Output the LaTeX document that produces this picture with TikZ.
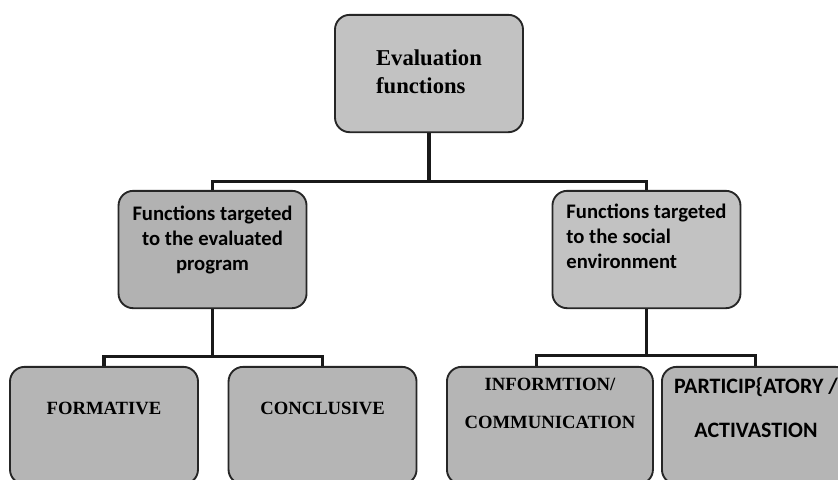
\documentclass[tikz,border=0pt]{standalone}
\usepackage{fontspec}
\setmainfont{Liberation Serif}
\newfontfamily\calib{Carlito}
\tikzstyle{recNode} = [rectangle, minimum width=141pt, minimum height=88pt, align=center, rounded corners=11pt, draw=black!85, line width=1.4pt, inner sep=0pt]
\tikzstyle{recNodeT} = [recNode, fill=black!24, align=left, font=\bfseries\fontsize{17}{21}\selectfont]
\tikzstyle{recNodeS} = [recNode, fill=black!30, font=\calib\bfseries\fontsize{15.5}{18.75}\selectfont]
\tikzstyle{recNodeL} = [recNode, fill=black!29, font=\bfseries\fontsize{14}{28.5}\selectfont]
\tikzstyle{line} = [line width=2.3pt, draw=black!90]

\begin{document}
\begin{tikzpicture}[node distance=132pt]
        \useasboundingbox (0,0) rectangle (628.5pt,359.25pt);
        \clip (0,0) rectangle (628.5pt,359.25pt);

        \node (eval) [recNodeT, text depth=3pt] at (321.75pt,304.1pt) {Evaluation\\functions};
        \node (prog) [recNodeS, below of=eval, xshift=-162.35pt, text depth=17pt] {Functions targeted\\to the evaluated\\program};
        \node (soc) [recNodeS, below of=eval, xshift=163.1pt, fill=black!24, align=left, text depth=20pt] {Functions targeted\\to the social\\environment};

        \node (form) [recNodeL, below of=prog, xshift=-81.4pt, text depth=26pt] {FORMATIVE};
        \node (concl) [recNodeL, below of=prog, xshift=82.5pt, text depth=26pt] {CONCLUSIVE};
        \node (info) [recNodeL, below of=soc, xshift=-72.4pt, minimum width=154.5pt, text depth=33pt] {INFORMTION/\\COMMUNICATION};
        \node (part) [recNodeL, below of=soc, xshift=82.1pt, font=\calib\bfseries\fontsize{16.5}{33.5}\selectfont, text depth=27pt] {PARTICIP\{ATORY /\\ACTIVASTION};

        \draw [line] (eval.south) -- ++(0,-36pt) -| (prog.north);
        \draw [line] (eval.south) -- ++(0,-36pt) -| (soc.north);
        \draw [line] (prog.south) -- ++(0,-35.25pt) -| (form.north);
        \draw [line] (prog.south) -- ++(0,-35.25pt) -| (concl.north);
        \draw [line] (soc.south) -- ++(0,-34.5pt) -| ([xshift=-9.75pt]info.north);
        \draw [line] (soc.south) -- ++(0,-34.5pt) -| (part.north);
    \end{tikzpicture}
\end{document}
